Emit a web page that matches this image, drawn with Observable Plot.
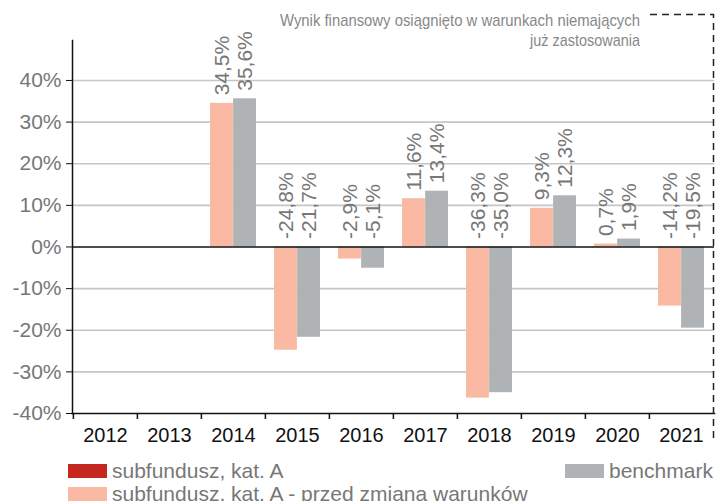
<!DOCTYPE html>
<html><head><meta charset="utf-8">
<script src="https://cdn.jsdelivr.net/npm/d3@7"></script>
<script src="https://cdn.jsdelivr.net/npm/@observablehq/plot@0.6"></script>
<style>
body{margin:0;background:#fff;font-family:"Liberation Sans",Arial,Helvetica,sans-serif;}
#wrap{position:relative;width:716px;height:501px;overflow:hidden;background:#fff;}
#chart svg{display:block;}
.leg{position:absolute;font-size:21px;line-height:21px;color:#777;white-space:nowrap;}
.sw{position:absolute;width:39px;height:14px;}
#overlay{position:absolute;left:0;top:0;pointer-events:none;}
</style></head><body>
<div id="wrap"><div id="chart"></div></div>
<script>
// ---- data ----
const years = ["2012","2013","2014","2015","2016","2017","2018","2019","2020","2021"];
const fundBefore = [null, null, 34.5, -24.8, -2.9, 11.6, -36.3, 9.3, 0.7, -14.2];
const benchmark  = [null, null, 35.6, -21.7, -5.1, 13.4, -35.0, 12.3, 1.9, -19.5];
const seriesNames = ["subfundusz, kat. A", "subfundusz, kat. A - przed zmianą warunków", "benchmark"];
const seriesColors = ["#c4281f", "#f9b9a2", "#b0b3b6"];
const yTicks = [-40, -30, -20, -10, 0, 10, 20, 30, 40];
const noteLines = ["Wynik finansowy osiągnięto w warunkach niemających", "już zastosowania"];

// ---- layout ----
const W = 716, H = 455, mL = 72, mR = 2, mT = 40, mB = 42;
const step = (W - mL - mR) / years.length;
const padIn = 0.28;
const half = step * (1 - padIn) / 2;

const rowsBefore = years.map((y, i) => ({year: y, value: fundBefore[i]})).filter(d => d.value != null);
const rowsBench  = years.map((y, i) => ({year: y, value: benchmark[i]})).filter(d => d.value != null);
const fmt = v => v.toFixed(1).replace(".", ",") + "%";

const labelOpts = (dx) => ({
  x: "year", y: d => Math.max(0, d.value), text: d => fmt(d.value),
  rotate: -90, textAnchor: "start", dx, dy: -8,
  fontSize: 21, fill: "#777"
});

const plot = Plot.plot({
  width: W, height: H,
  marginLeft: mL, marginRight: mR, marginTop: mT, marginBottom: mB,
  style: {fontFamily: "'Liberation Sans', Arial, sans-serif", background: "#fff"},
  x: {type: "band", domain: years, paddingInner: padIn, paddingOuter: padIn / 2, label: null},
  y: {domain: [-40, 49.6], label: null},
  marks: [
    Plot.gridY(yTicks.filter(t => t !== 0 && t !== -40), {stroke: "#c6c6c6", strokeOpacity: 1, strokeWidth: 1.6}),
    Plot.barY(rowsBefore, {x: "year", y: "value", fill: seriesColors[1], insetRight: half}),
    Plot.barY(rowsBench, {x: "year", y: "value", fill: seriesColors[2], insetLeft: half}),
    Plot.ruleY([0], {stroke: "#111", strokeWidth: 1.5}),
    Plot.text(rowsBefore, labelOpts(-half / 2)),
    Plot.text(rowsBench, labelOpts(half / 2)),
    Plot.frame({anchor: "left", stroke: "#111", strokeWidth: 1.5}),
    Plot.frame({anchor: "bottom", stroke: "#111", strokeWidth: 1.5}),
    Plot.axisY({ticks: yTicks, tickFormat: d => d + "%", tickSize: 6, tickPadding: 5, fontSize: 21, stroke: "#111", fill: "#777"}),
    Plot.axisX({tickSize: 0, tickPadding: 14, fontSize: 20, fill: "#111"}),
    Plot.axisX({tickSize: 6, tickFormat: () => "", dx: -step / 2, stroke: "#111", strokeWidth: 1.5})
  ]
});
document.getElementById("chart").appendChild(plot);

const wrap = document.getElementById("wrap");
// legend
const legendItems = [
  {name: seriesNames[0], color: seriesColors[0], sx: 68, sy: 464},
  {name: seriesNames[1], color: seriesColors[1], sx: 68, sy: 487},
  {name: seriesNames[2], color: seriesColors[2], sx: 565, sy: 464}
];
for (const it of legendItems) {
  const s = document.createElement("div");
  s.className = "sw"; s.style.left = it.sx + "px"; s.style.top = it.sy + "px"; s.style.background = it.color;
  wrap.appendChild(s);
  const t = document.createElement("div");
  t.className = "leg"; t.style.left = (it.sx + 44) + "px"; t.style.top = (it.sy - 4) + "px";
  t.textContent = it.name;
  wrap.appendChild(t);
}
// note + dashed box
const ov = d3.select(wrap).append("svg").attr("id", "overlay").attr("width", W).attr("height", 501);
ov.append("path").attr("d", "M650,14.5H713.5V440").attr("fill", "none")
  .attr("stroke", "#222").attr("stroke-width", 1.5).attr("stroke-dasharray", "7,5");
const noteSpec = [{y: 26, len: 360}, {y: 46, len: 110}];
noteLines.forEach((txt, i) => {
  ov.append("text").attr("x", 640).attr("y", noteSpec[i].y).attr("text-anchor", "end")
    .attr("font-size", 17).attr("fill", "#888")
    .attr("font-family", "'Liberation Sans Narrow','Liberation Sans',Arial,sans-serif")
    .attr("textLength", noteSpec[i].len).attr("lengthAdjust", "spacingAndGlyphs")
    .text(txt);
});
</script>
</body></html>
